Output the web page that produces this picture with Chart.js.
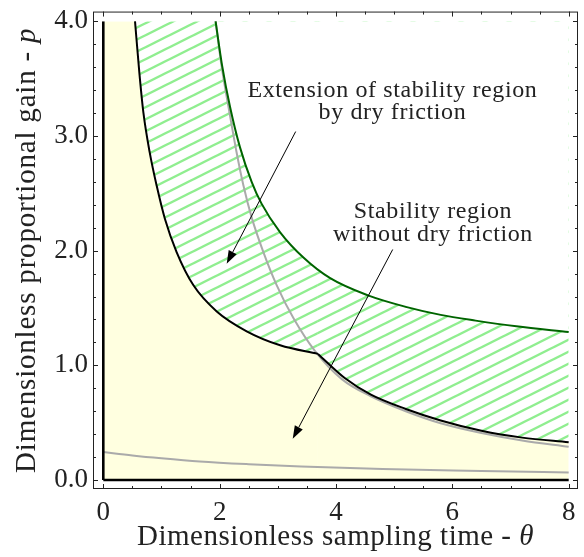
<!DOCTYPE html>
<html lang="en">
<head>
  <meta charset="UTF-8" />
  <title>Stability region with dry friction</title>
  <style>
    html, body { margin: 0; padding: 0; background: #fff; }
    #wrap { width: 584px; height: 557px; }
  </style>
</head>
<body>
  <div id="wrap"><canvas id="chart" width="584" height="557"></canvas></div>

  <script src="https://cdn.jsdelivr.net/npm/chart.js"></script>
  <script>
    // values (theta = sampling time, p = proportional gain)
    const xTicks = [0, 2, 4, 6, 8];
    const yTicks = [0, 1, 2, 3, 4];

    // boundary of the stability region with dry friction (black), split at the corner
    const frictionUpperTheta = [0.545, 0.62, 0.69, 0.80, 0.918, 1.06, 1.26, 1.547, 1.95, 2.465, 3.04, 3.69];
    const frictionUpperP     = [4.00, 3.55, 3.20, 2.85, 2.565, 2.276, 1.988, 1.70, 1.47, 1.297, 1.175, 1.10];
    const frictionLowerTheta = [3.69, 4.15, 4.6, 5.2, 5.8, 6.5, 7.2, 8.0];
    const frictionLowerP     = [1.10, 0.89, 0.745, 0.62, 0.52, 0.43, 0.37, 0.33];

    // outer limit of the extension by dry friction (dark green)
    const extensionTheta = [1.93, 2.04, 2.18, 2.35, 2.55, 2.72, 3.04, 3.44, 3.9, 4.55, 5.2, 5.8, 6.4, 7.1, 8.0];
    const extensionP     = [4.00, 3.62, 3.25, 2.90, 2.60, 2.41, 2.16, 1.94, 1.76, 1.61, 1.51, 1.44, 1.39, 1.34, 1.29];

    // stability limits without dry friction (grey)
    const noFrictionTheta = [1.93, 2.03, 2.17, 2.29, 2.41, 2.55, 2.75, 2.98, 3.27, 3.64, 4.1, 4.6, 5.2, 5.8, 6.5, 7.2, 8.0];
    const noFrictionP     = [4.00, 3.62, 3.20, 2.86, 2.565, 2.29, 1.99, 1.70, 1.41, 1.124, 0.88, 0.73, 0.60, 0.495, 0.41, 0.345, 0.29];
    const lowerLimitTheta = [0, 0.5, 1, 1.66, 2.5, 3.4, 4.8, 6.5, 8];
    const lowerLimitP     = [0.245, 0.215, 0.19, 0.162, 0.138, 0.118, 0.097, 0.08, 0.066];

    // edges of the region
    const edgeTheta = [0, 8];
    const edgeP = [0, 4];

    const pts = (xs, ys) => xs.map((x, i) => ({ x: x, y: ys[i] }));

    const frictionUpper = pts(frictionUpperTheta, frictionUpperP);
    const frictionLower = pts(frictionLowerTheta, frictionLowerP);
    const extension = pts(extensionTheta, extensionP);
    const noFriction = pts(noFrictionTheta, noFrictionP);
    const lowerLimit = pts(lowerLimitTheta, lowerLimitP);
    const leftEdge = [{ x: edgeTheta[0], y: edgeP[0] }, { x: edgeTheta[0], y: edgeP[1] }];
    const bottomEdge = [{ x: edgeTheta[0], y: edgeP[0] }, { x: edgeTheta[1], y: edgeP[0] }];
    const topStrip = [{ x: edgeTheta[0], y: edgeP[1] }, { x: frictionUpperTheta[0], y: edgeP[1] }];

    // annotations, in data units
    const notes = [
      { lines: ['Extension of stability region', 'by dry friction'], x: 4.97, y: [3.343, 3.145],
        from: [3.307, 3.038], to: [2.121, 1.886] },
      { lines: ['Stability region', 'without dry friction'], x: 5.667, y: [2.281, 2.082],
        from: [4.975, 2.010], to: [3.256, 0.360] }
    ];

    const serif = '"Liberation Serif", "Times New Roman", serif';
    const textColor = '#222';

    function hatchPattern() {
      const c = document.createElement('canvas');
      c.width = 24; c.height = 12;
      const g = c.getContext('2d');
      g.strokeStyle = '#90ee90';
      g.lineWidth = 2.4;
      for (const k of [-12, 0, 12]) {
        g.beginPath();
        g.moveTo(-2, 13 + k);
        g.lineTo(26, -1 + k);
        g.stroke();
      }
      return g.createPattern(c, 'repeat');
    }

    function drawArrow(ctx, x1, y1, x2, y2) {
      const a = Math.atan2(y2 - y1, x2 - x1);
      const len = 13, hw = 4.5;
      const bx = x2 - len * Math.cos(a), by = y2 - len * Math.sin(a);
      ctx.beginPath();
      ctx.moveTo(x1, y1);
      ctx.lineTo(bx, by);
      ctx.stroke();
      ctx.beginPath();
      ctx.moveTo(x2, y2);
      ctx.lineTo(bx + hw * Math.sin(a), by - hw * Math.cos(a));
      ctx.lineTo(bx - hw * Math.sin(a), by + hw * Math.cos(a));
      ctx.closePath();
      ctx.fill();
    }

    // text with an italic symbol at the end, centred on (0, 0) of the current transform
    function drawTitle(ctx, text, sym, size, spacing) {
      ctx.letterSpacing = spacing + 'px';
      ctx.font = size + 'px ' + serif;
      const w1 = ctx.measureText(text).width;
      ctx.font = 'italic ' + size + 'px ' + serif;
      const w2 = ctx.measureText(sym).width;
      const start = -(w1 + w2) / 2;
      ctx.textAlign = 'left';
      ctx.textBaseline = 'alphabetic';
      ctx.font = size + 'px ' + serif;
      ctx.fillText(text, start, 0);
      ctx.font = 'italic ' + size + 'px ' + serif;
      ctx.fillText(sym, start + w1, 0);
    }

    const framePlugin = {
      id: 'frame',
      afterDatasetsDraw(chart) {
        const { ctx, chartArea: area, scales: { x, y } } = chart;
        const top = y.getPixelForValue(4.084);
        const left = area.left, right = area.right, bottom = area.bottom;
        ctx.save();
        ctx.strokeStyle = '#222';
        ctx.lineWidth = 1;
        ctx.strokeRect(left + 0.5, top + 0.5, right - left - 1, bottom - top - 1);

        ctx.beginPath();
        for (let i = 0; i <= 16; i++) {
          const px = Math.round(x.getPixelForValue(i * 0.5)) + 0.5;
          const len = i % 4 === 0 ? 5 : 3;
          ctx.moveTo(px, bottom); ctx.lineTo(px, bottom - len);
          ctx.moveTo(px, top); ctx.lineTo(px, top + len);
        }
        for (let i = 0; i <= 20; i++) {
          const py = Math.round(y.getPixelForValue(i * 0.2)) + 0.5;
          const len = i % 5 === 0 ? 5 : 3;
          ctx.moveTo(left, py); ctx.lineTo(left + len, py);
          ctx.moveTo(right, py); ctx.lineTo(right - len, py);
        }
        ctx.stroke();

        // annotations
        ctx.strokeStyle = '#000';
        ctx.fillStyle = '#000';
        ctx.lineWidth = 1;
        notes.forEach(n => {
          drawArrow(ctx, x.getPixelForValue(n.from[0]), y.getPixelForValue(n.from[1]),
                         x.getPixelForValue(n.to[0]), y.getPixelForValue(n.to[1]));
        });
        ctx.fillStyle = textColor;
        ctx.font = '24px ' + serif;
        ctx.letterSpacing = '0.6px';
        ctx.textAlign = 'center';
        ctx.textBaseline = 'alphabetic';
        notes.forEach(n => {
          n.lines.forEach((line, i) => {
            ctx.fillText(line, x.getPixelForValue(n.x), y.getPixelForValue(n.y[i]));
          });
        });

        // axis titles
        ctx.save();
        ctx.translate((left + right) / 2, bottom + 56);
        drawTitle(ctx, 'Dimensionless sampling time - ', '\u03b8', 29, 0.5);
        ctx.restore();
        ctx.save();
        ctx.translate(35, (top + bottom) / 2);
        ctx.rotate(-Math.PI / 2);
        drawTitle(ctx, 'Dimensionless proportional gain - ', 'p', 29, 0.8);
        ctx.restore();
        ctx.restore();
      }
    };

    const line = (data, color, width, extra) => Object.assign({
      data: data,
      borderColor: color,
      borderWidth: width,
      pointRadius: 0,
      fill: false,
      cubicInterpolationMode: 'monotone'
    }, extra || {});

    const area = (data, fill, color) => ({
      data: data,
      borderColor: 'rgba(0,0,0,0)',
      borderWidth: 1,
      pointRadius: 0,
      fill: fill,
      backgroundColor: color,
      cubicInterpolationMode: 'monotone'
    });

    const yellow = '#ffffe0';
    const hatch = hatchPattern();

    // lower index is drawn on top
    const datasets = [
      line(leftEdge, '#000', 2.6, { cubicInterpolationMode: 'default' }),
      line(bottomEdge, '#000', 2.6, { cubicInterpolationMode: 'default' }),
      line(frictionUpper, '#000', 2),
      line(frictionLower, '#000', 2),
      line(extension, '#006400', 2),
      line(noFriction, '#aaaaaa', 2),
      line(lowerLimit, '#aaaaaa', 2),
      area(extension, 'end', '#ffffff'),
      area(frictionUpper, { value: 4 }, hatch),
      area(frictionLower, { value: 4 }, hatch),
      area(frictionUpper, 'origin', yellow),
      area(frictionLower, 'origin', yellow),
      area(topStrip, 'origin', yellow)
    ];

    const tickFont = { family: serif, size: 27 };

    new Chart(document.getElementById('chart').getContext('2d'), {
      type: 'line',
      data: { datasets: datasets },
      options: {
        responsive: false,
        animation: false,
        layout: { padding: { top: 17, right: 6, left: 0, bottom: 0 } },
        plugins: {
          legend: { display: false },
          tooltip: { enabled: false }
        },
        scales: {
          x: {
            type: 'linear',
            min: -0.177,
            max: 8.16,
            grid: { display: false, drawTicks: false },
            border: { display: false },
            afterBuildTicks: s => { s.ticks = xTicks.map(v => ({ value: v })); },
            afterFit: s => { s.height = 68; },
            ticks: { font: tickFont, color: textColor, padding: 8, autoSkip: false, maxRotation: 0 }
          },
          y: {
            type: 'linear',
            min: -0.0778,
            max: 4,
            grid: { display: false, drawTicks: false },
            border: { display: false },
            afterBuildTicks: s => { s.ticks = yTicks.map(v => ({ value: v })); },
            afterFit: s => { s.width = 93; },
            ticks: { font: tickFont, color: textColor, padding: 5, callback: v => v.toFixed(1) }
          }
        }
      },
      plugins: [framePlugin]
    });
  </script>
</body>
</html>
